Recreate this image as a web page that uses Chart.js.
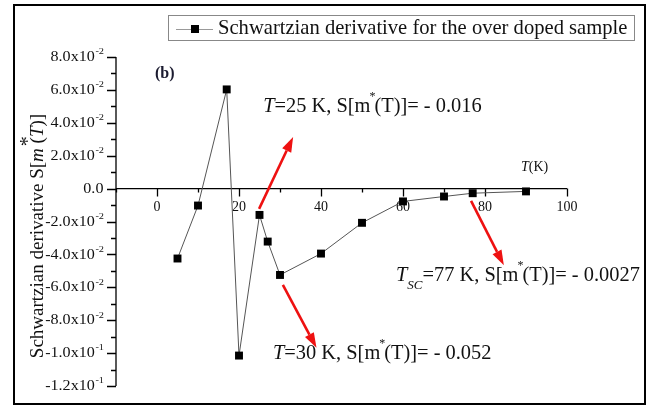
<!DOCTYPE html>
<html>
<head>
<meta charset="utf-8">
<script src="https://cdn.jsdelivr.net/npm/chart.js@4"></script>
<style>
  body { margin: 0; background: #fff; }
  #wrap { width: 650px; height: 407px; }
</style>
</head>
<body>
<div id="wrap"><canvas id="sdChart" width="650" height="407"></canvas></div>
<script>
// DATA - Schwartzian derivative, over doped sample
const temps = [5, 10, 17, 20, 25, 27, 30, 40, 50, 60, 70, 77, 90];
const sValues = [-0.0425, -0.0103, 0.0603, -0.1015, -0.016, -0.0322, -0.0525, -0.0395, -0.0208, -0.0078, -0.0048, -0.0028, -0.0017];
const xTicks = [0, 20, 40, 60, 80, 100];
const xMinorTicks = [-10, 10, 30, 50, 70, 90];
const yTicks = [0.08, 0.06, 0.04, 0.02, 0, -0.02, -0.04, -0.06, -0.08, -0.10, -0.12];
const yTickLabels = [["8.0x10", "-2"], ["6.0x10", "-2"], ["4.0x10", "-2"], ["2.0x10", "-2"], ["0.0", ""],
  ["-2.0x10", "-2"], ["-4.0x10", "-2"], ["-6.0x10", "-2"], ["-8.0x10", "-2"], ["-1.0x10", "-1"], ["-1.2x10", "-1"]];
const yMinorTicks = [0.07, 0.05, 0.03, 0.01, -0.01, -0.03, -0.05, -0.07, -0.09, -0.11];
const legendLabel = "Schwartzian derivative for the over doped sample";

// annotations: [tail x, tail y, tip x, tip y] in data units
const arrows = [
  [24.9, -0.0123, 33.2, 0.0314],
  [30.7, -0.0585, 38.9, -0.0968],
  [76.6, -0.0075, 84.6, -0.0466]
];
// annotation text anchors (left x, middle y) in data units
const notes = [
  { x: 25.9, y: 0.0497, t: "25", v: "- 0.016", sub: "" },
  { x: 28.3, y: -0.1005, t: "30", v: "- 0.052", sub: "" },
  { x: 58.3, y: -0.0530, t: "77", v: "- 0.0027", sub: "SC" }
];

const SERIF = "'Liberation Serif', 'Times New Roman', serif";

// draw a run of text pieces [text, font, dy], returns end x
function drawRuns(ctx, runs, x, y) {
    runs.forEach(r => {
        ctx.font = r[1];
        ctx.fillText(r[0], x, y + (r[2] || 0));
        x += ctx.measureText(r[0]).width;
    });
    return x;
}

const axesPlugin = {
    id: 'axesPlugin',
    beforeDatasetsDraw(chart) {
        const ctx = chart.ctx;
        const xs = chart.scales.x, ys = chart.scales.y;
        const x0 = xs.getPixelForValue(-10);
        const y0 = ys.getPixelForValue(0);
        ctx.save();

        // outer frame
        ctx.strokeStyle = '#000';
        ctx.lineWidth = 2;
        ctx.strokeRect(14, 5, 631, 399);

        // y axis
        ctx.lineWidth = 1.3;
        ctx.beginPath();
        ctx.moveTo(x0, ys.getPixelForValue(0.08));
        ctx.lineTo(x0, ys.getPixelForValue(-0.12));
        yTicks.forEach(v => {
            const p = Math.round(ys.getPixelForValue(v)) + 0.5;
            ctx.moveTo(x0, p); ctx.lineTo(x0 - 9, p);
        });
        yMinorTicks.forEach(v => {
            const p = Math.round(ys.getPixelForValue(v)) + 0.5;
            ctx.moveTo(x0, p); ctx.lineTo(x0 - 5, p);
        });
        ctx.stroke();

        // x axis at y = 0
        ctx.beginPath();
        ctx.moveTo(x0, y0);
        ctx.lineTo(xs.getPixelForValue(100), y0);
        xTicks.forEach(v => {
            const p = Math.round(xs.getPixelForValue(v)) + 0.5;
            ctx.moveTo(p, y0); ctx.lineTo(p, y0 + 8);
        });
        xMinorTicks.forEach(v => {
            const p = Math.round(xs.getPixelForValue(v)) + 0.5;
            ctx.moveTo(p, y0); ctx.lineTo(p, y0 + 4);
        });
        ctx.stroke();

        // y tick labels (slightly wide type, like the original)
        ctx.fillStyle = '#111';
        ctx.textBaseline = 'middle';
        ctx.textAlign = 'right';
        yTicks.forEach((v, i) => {
            const p = ys.getPixelForValue(v);
            const [main, sup] = yTickLabels[i];
            ctx.save();
            ctx.translate(104, p);
            ctx.scale(1.15, 1);
            ctx.font = '9px ' + SERIF;
            const sw = sup ? ctx.measureText(sup).width : 0;
            if (sup) ctx.fillText(sup, 0, -5);
            ctx.font = '14px ' + SERIF;
            ctx.fillText(main, -sw - 0.5, 0.5);
            ctx.restore();
        });
        ctx.textAlign = 'center';
        ctx.font = '14px ' + SERIF;
        xTicks.forEach(v => {
            ctx.fillText(String(v), xs.getPixelForValue(v), y0 + 19);
        });

        // T(K)
        ctx.textAlign = 'left';
        drawRuns(ctx, [["T", "italic 14px " + SERIF], ["(K)", "14px " + SERIF]], 521, 167);

        // (b)
        ctx.font = 'bold 16px ' + SERIF;
        ctx.fillStyle = '#1b1b30';
        ctx.fillText("(b)", 155, 74);

        // y axis title
        ctx.fillStyle = '#111';
        ctx.save();
        ctx.translate(38, 236);
        ctx.rotate(-Math.PI / 2);
        ctx.textAlign = 'left';
        const pieces = [["Schwartzian derivative S[", "19px " + SERIF], ["m", "italic 19px " + SERIF],
            [" (", "19px " + SERIF], ["T", "italic 19px " + SERIF], [")]", "19px " + SERIF]];
        let w = 0;
        const starts = [];
        pieces.forEach(pc => { ctx.font = pc[1]; starts.push(w); w += ctx.measureText(pc[0]).width; });
        const sx = -w / 2;
        pieces.forEach((pc, i) => {
            ctx.font = pc[1];
            ctx.fillText(pc[0], sx + starts[i], 0);
        });
        ctx.font = '20px ' + SERIF;
        ctx.fillText("*", sx + starts[2] + 2, -9);
        ctx.restore();

        // legend
        ctx.strokeStyle = '#888';
        ctx.lineWidth = 1;
        ctx.strokeRect(168.5, 15.5, 466, 25);
        ctx.strokeStyle = '#999';
        ctx.beginPath();
        ctx.moveTo(176, 29.5); ctx.lineTo(213, 29.5);
        ctx.stroke();
        ctx.fillStyle = '#000';
        ctx.fillRect(191, 25, 8, 8);
        ctx.fillStyle = '#111';
        ctx.font = '20.6px ' + SERIF;
        ctx.textAlign = 'left';
        ctx.fillText(legendLabel, 218, 29);

        ctx.restore();
    },
    afterDatasetsDraw(chart) {
        const ctx = chart.ctx;
        const xs = chart.scales.x, ys = chart.scales.y;
        ctx.save();

        // red arrows
        ctx.strokeStyle = '#ee1111';
        ctx.fillStyle = '#ee1111';
        ctx.lineWidth = 2.6;
        arrows.forEach(a => {
            const x1 = xs.getPixelForValue(a[0]), y1 = ys.getPixelForValue(a[1]);
            const x2 = xs.getPixelForValue(a[2]), y2 = ys.getPixelForValue(a[3]);
            const ang = Math.atan2(y2 - y1, x2 - x1);
            const hl = 15, hw = 5;
            const bx = x2 - hl * Math.cos(ang), by = y2 - hl * Math.sin(ang);
            ctx.beginPath();
            ctx.moveTo(x1, y1); ctx.lineTo(bx, by);
            ctx.stroke();
            ctx.beginPath();
            ctx.moveTo(x2, y2);
            ctx.lineTo(bx + hw * Math.sin(ang), by - hw * Math.cos(ang));
            ctx.lineTo(bx - hw * Math.sin(ang), by + hw * Math.cos(ang));
            ctx.closePath();
            ctx.fill();
        });

        // annotation texts
        ctx.fillStyle = '#111';
        ctx.textAlign = 'left';
        ctx.textBaseline = 'middle';
        const F = "20.4px " + SERIF, FI = "italic 20.4px " + SERIF;
        notes.forEach(n => {
            let x = xs.getPixelForValue(n.x), y = ys.getPixelForValue(n.y);
            x = drawRuns(ctx, [["T", FI]], x, y);
            if (n.sub) x = drawRuns(ctx, [[n.sub, "italic 13px " + SERIF, 10]], x, y);
            x = drawRuns(ctx, [["=" + n.t + " K, S[m", F]], x, y);
            drawRuns(ctx, [["*", "12px " + SERIF, -10]], x - 1, y);
            drawRuns(ctx, [["(T)]= " + n.v, F]], x + 4, y);
        });

        ctx.restore();
    }
};

new Chart(document.getElementById("sdChart"), {
    type: 'scatter',
    data: {
        datasets: [{
            label: legendLabel,
            data: temps.map((t, i) => ({ x: t, y: sValues[i] })),
            showLine: true,
            borderColor: '#555',
            borderWidth: 1,
            pointStyle: 'rect',
            pointRadius: 5.6,
            pointBackgroundColor: '#000',
            pointBorderColor: '#000',
            pointBorderWidth: 0,
            clip: false
        }]
    },
    options: {
        responsive: false,
        animation: false,
        layout: { padding: { left: 116, right: 83, top: 57, bottom: 21 } },
        plugins: { legend: { display: false }, tooltip: { enabled: false } },
        scales: {
            x: { type: 'linear', min: -10, max: 100, display: false },
            y: { type: 'linear', min: -0.12, max: 0.08, display: false }
        }
    },
    plugins: [axesPlugin]
});
</script>
</body>
</html>
